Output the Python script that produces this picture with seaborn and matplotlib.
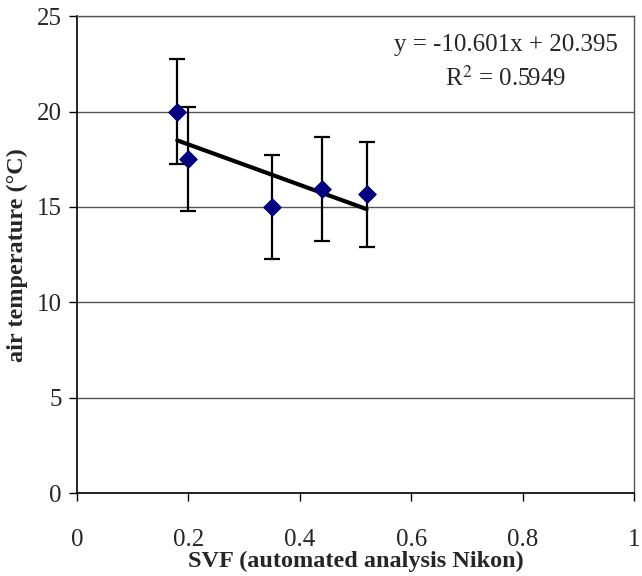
import numpy as np
import pandas as pd
import matplotlib
matplotlib.use("Agg")
import matplotlib.pyplot as plt
import seaborn as sns

svf = [0.18, 0.20, 0.35, 0.44, 0.52]
temp = [20.0, 17.5, 15.0, 15.95, 15.65]
err = [2.73, 2.73, 2.73, 2.73, 2.73]
slope = -10.601
intercept = 20.395
eq_text = "y = -10.601x + 20.395"
r2_text = "R$^2$ = 0.5949"
xticks = [0, 0.2, 0.4, 0.6, 0.8, 1]
xticklabels = ["0", "0.2", "0.4", "0.6", "0.8", "1"]
yticks = [0, 5, 10, 15, 20, 25]

sns.set_style("white")
plt.rcParams["font.family"] = ["Liberation Serif", "DejaVu Serif"]
plt.rcParams["mathtext.fontset"] = "stix"

df = pd.DataFrame({"svf": svf, "temp": temp, "err": err})
fit_x = np.array([min(svf), max(svf)])
fit = pd.DataFrame({"svf": fit_x, "temp": slope * fit_x + intercept})

fig = plt.figure(figsize=(6.42, 5.76), dpi=100)
ax = fig.add_axes([0.12, 0.144, 0.8675, 0.828])

ax.errorbar(df["svf"], df["temp"], yerr=df["err"], fmt="none",
            ecolor="black", elinewidth=1.6, capsize=6, capthick=1.6, zorder=2)
sns.lineplot(data=fit, x="svf", y="temp", ax=ax, color="black", linewidth=3, zorder=3)
sns.scatterplot(data=df, x="svf", y="temp", ax=ax, marker="D", s=80,
                color="#000080", edgecolor="#000080", zorder=4)

ax.set_xlim(0, 1)
ax.set_ylim(0, 25)
ax.set_xticks(xticks)
ax.set_xticklabels(xticklabels)
ax.set_yticks(yticks)
ax.yaxis.grid(True, color="#555555", linewidth=1)
ax.xaxis.grid(False)
ax.set_axisbelow(True)

for side in ["left", "bottom"]:
    ax.spines[side].set_color("black")
    ax.spines[side].set_linewidth(1.2)
for side in ["top", "right"]:
    ax.spines[side].set_color("#555555")
    ax.spines[side].set_linewidth(1)

ax.tick_params(axis="both", direction="out", length=6, width=1, color="black",
               labelsize=18, bottom=True, left=True)
ax.tick_params(axis="x", pad=20)
ax.tick_params(axis="y", pad=5)

ax.set_xlabel("SVF (automated analysis Nikon)", fontsize=17.5, fontweight="bold", labelpad=0)
ax.set_ylabel("air temperature (°C)", fontsize=17.5, fontweight="bold", labelpad=6)

ax.text(0.77, 23.5, eq_text, ha="center", va="center", fontsize=18)
ax.text(0.77, 21.75, r2_text, ha="center", va="center", fontsize=18)

fig.savefig("out.png", dpi=100)
